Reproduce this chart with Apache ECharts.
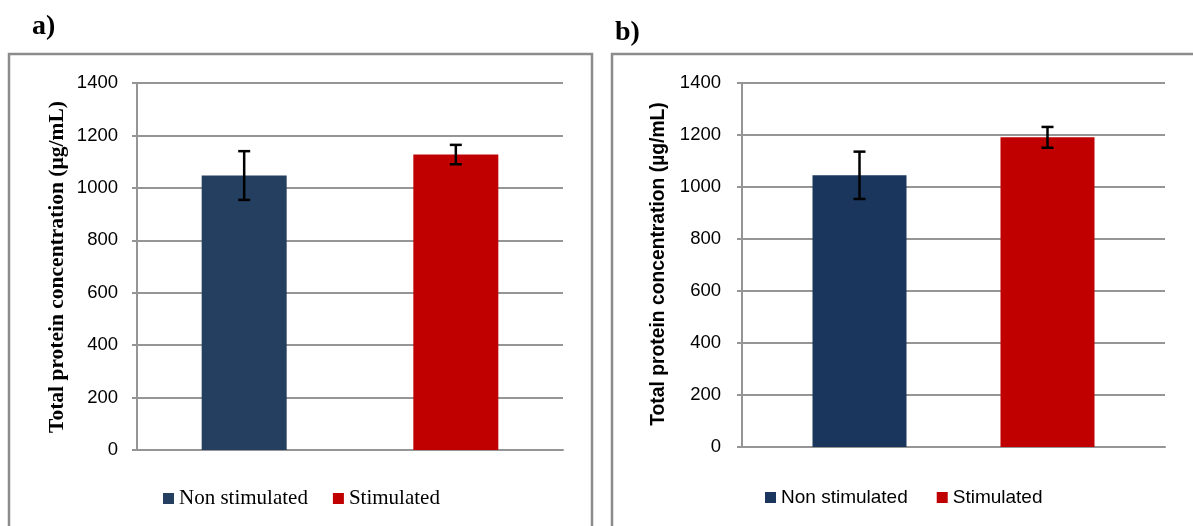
<!DOCTYPE html>
<html>
<head>
<meta charset="utf-8">
<script src="https://cdn.jsdelivr.net/npm/echarts@6/dist/echarts.min.js"></script>
<style>
  html, body { margin: 0; padding: 0; background: #fff; }
  #chart { width: 1193px; height: 526px; }
</style>
</head>
<body>
<div id="chart"></div>
<script>
// Total protein concentration, mean ± error, two experiments (a, b)
const seriesNames = ['Non stimulated', 'Stimulated'];
const meanA = [1047, 1127];
const errA = [93, 37];
const meanB = [1045, 1191];
const errB = [91, 40];
const yTicks = [0, 200, 400, 600, 800, 1000, 1200, 1400];
const yTitle = 'Total protein concentration (µg/mL)';

const blueA = '#243f60';
const blueB = '#1b365d';
const red = '#c00000';
const gridGrey = '#959595';

// bar geometry per panel (pixels) – used both by the bars and the error bars
const barA = { width: 85, gap: 1.49 };
const barB = { width: 94, gap: 1.0 };

function errorBarSeries(gridIndex, means, errs, geom) {
  return {
    type: 'custom',
    xAxisIndex: gridIndex,
    yAxisIndex: gridIndex,
    z: 10,
    silent: true,
    data: means.map((m, i) => [0, m - errs[i], m + errs[i], i]),
    encode: { x: 0, y: [1, 2] },
    renderItem: function (params, api) {
      const k = api.value(3);
      const lo = api.coord([api.value(0), api.value(1)]);
      const hi = api.coord([api.value(0), api.value(2)]);
      const total = geom.width * 2 + geom.gap * geom.width;
      const x = lo[0] - total / 2 + geom.width / 2 + k * geom.width * (1 + geom.gap);
      const cap = 6;
      const style = { stroke: '#000', lineWidth: 2.5 };
      return {
        type: 'group',
        children: [
          { type: 'line', shape: { x1: x, y1: lo[1], x2: x, y2: hi[1] }, style },
          { type: 'line', shape: { x1: x - cap, y1: hi[1], x2: x + cap, y2: hi[1] }, style },
          { type: 'line', shape: { x1: x - cap, y1: lo[1], x2: x + cap, y2: lo[1] }, style }
        ]
      };
    }
  };
}

function yAxisFor(gridIndex) {
  return {
    type: 'value',
    gridIndex,
    min: yTicks[0],
    max: yTicks[yTicks.length - 1],
    interval: yTicks[1] - yTicks[0],
    axisLine: { show: true, lineStyle: { color: gridGrey, width: 2 } },
    axisTick: { show: true, length: 5, lineStyle: { color: gridGrey, width: 2 } },
    splitLine: { show: true, lineStyle: { color: gridGrey, width: 2 } },
    axisLabel: {
      margin: gridIndex === 0 ? 19 : 21,
      color: '#000',
      fontFamily: 'Liberation Sans',
      fontSize: 18.5,
      formatter: (v) => String(v)
    }
  };
}

function xAxisFor(gridIndex) {
  return {
    type: 'category',
    gridIndex,
    data: [''],
    axisLine: { show: true, lineStyle: { color: gridGrey, width: 2 } },
    axisTick: { show: false },
    axisLabel: { show: false }
  };
}

const chart = echarts.init(document.getElementById('chart'), null, { renderer: 'canvas' });

chart.setOption({
  animation: false,
  backgroundColor: '#fff',
  title: [
    { text: 'a)', left: 27, top: 8, textStyle: { fontFamily: 'Liberation Serif', fontWeight: 'bold', fontSize: 28, color: '#000' } },
    { text: 'b)', left: 610, top: 14, textStyle: { fontFamily: 'Liberation Serif', fontWeight: 'bold', fontSize: 28, color: '#000' } }
  ],
  grid: [
    { left: 137, right: 630, top: 83, bottom: 76 },
    { left: 742, right: 28, top: 83, bottom: 79 }
  ],
  xAxis: [xAxisFor(0), xAxisFor(1)],
  yAxis: [yAxisFor(0), yAxisFor(1)],
  legend: [
    {
      left: 163, top: 488, padding: 0,
      data: seriesNames.map((n, i) => ({ name: n, itemStyle: { color: i === 0 ? blueA : red } })),
      icon: 'rect', itemWidth: 11, itemHeight: 11, itemGap: 25,
      textStyle: { fontFamily: 'Liberation Serif', fontSize: 21, color: '#000' },
      selectedMode: false
    },
    {
      left: 765, top: 488, padding: 0,
      data: seriesNames.map((n, i) => ({ name: n, itemStyle: { color: i === 0 ? blueB : red } })),
      icon: 'rect', itemWidth: 11, itemHeight: 11, itemGap: 29,
      textStyle: { fontFamily: 'Liberation Sans', fontSize: 19, color: '#000' },
      selectedMode: false
    }
  ],
  graphic: [
    // panel frames
    { type: 'rect', shape: { x: 9, y: 54, width: 583, height: 500 }, style: { fill: 'none', stroke: '#8c8c8c', lineWidth: 2.5 }, silent: true },
    { type: 'rect', shape: { x: 612, y: 54, width: 600, height: 500 }, style: { fill: 'none', stroke: '#8c8c8c', lineWidth: 2.5 }, silent: true },
    // y-axis titles
    { type: 'text', x: 57, y: 267, rotation: Math.PI / 2,
      style: { text: yTitle, fontFamily: 'Liberation Serif', fontWeight: 'bold', fontSize: 21.5, fill: '#000', align: 'center', verticalAlign: 'middle' } },
    { type: 'text', x: 659, y: 264, rotation: Math.PI / 2,
      style: { text: yTitle, fontFamily: 'Liberation Sans', fontWeight: 'bold', fontSize: 19.3, fill: '#000', align: 'center', verticalAlign: 'middle' } }
  ],
  series: [
    { name: seriesNames[0], type: 'bar', xAxisIndex: 0, yAxisIndex: 0, data: [meanA[0]], barWidth: barA.width, barGap: (barA.gap * 100) + '%', itemStyle: { color: blueA } },
    { name: seriesNames[1], type: 'bar', xAxisIndex: 0, yAxisIndex: 0, data: [meanA[1]], barWidth: barA.width, barGap: (barA.gap * 100) + '%', itemStyle: { color: red } },
    errorBarSeries(0, meanA, errA, barA),
    { name: seriesNames[0], type: 'bar', xAxisIndex: 1, yAxisIndex: 1, data: [meanB[0]], barWidth: barB.width, barGap: (barB.gap * 100) + '%', itemStyle: { color: blueB } },
    { name: seriesNames[1], type: 'bar', xAxisIndex: 1, yAxisIndex: 1, data: [meanB[1]], barWidth: barB.width, barGap: (barB.gap * 100) + '%', itemStyle: { color: red } },
    errorBarSeries(1, meanB, errB, barB)
  ]
});
</script>
</body>
</html>
